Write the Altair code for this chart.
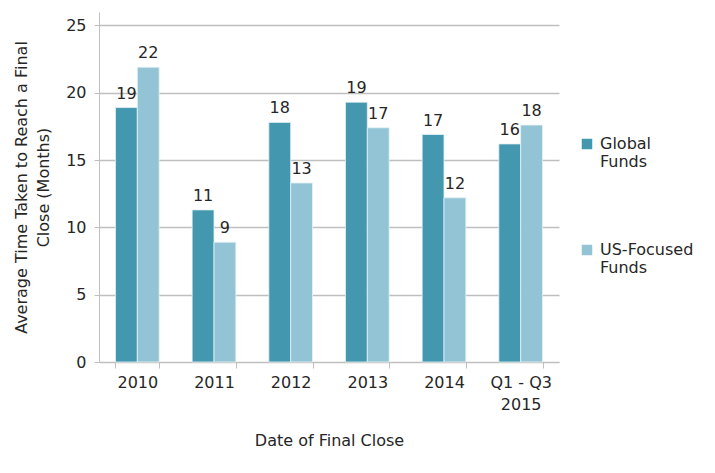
import altair as alt
import pandas as pd

categories = ["2010", "2011", "2012", "2013", "2014", "Q1 - Q3|2015"]
global_funds = [18.9, 11.3, 17.8, 19.3, 16.9, 16.2]
us_funds = [21.9, 8.9, 13.3, 17.4, 12.2, 17.6]
series_names = ["Global|Funds", "US-Focused|Funds"]
colors = ["#4398B0", "#93C4D5"]

rows = []
for c, g, u in zip(categories, global_funds, us_funds):
    rows.append({"cat": c, "series": series_names[0], "v": g})
    rows.append({"cat": c, "series": series_names[1], "v": u})
df = pd.DataFrame(rows)

FONT = "DejaVu Sans"
TXT = "#262626"

x = alt.X("cat:N", sort=categories, title="Date of Final Close",
          scale=alt.Scale(paddingInner=0.43, paddingOuter=0.215),
          axis=alt.Axis(labelAngle=0, labelExpr="split(datum.label, '|')",
                        tickBand="extent", tickSize=6, labelPadding=6,
                        titlePadding=20, domainColor="#BFBFBF", tickColor="#BFBFBF",
                        labelLineHeight=22))
xo = alt.XOffset("series:N", sort=series_names)
y = alt.Y("v:Q", title=["Average Time Taken to Reach a Final", "Close (Months)"],
          scale=alt.Scale(domain=[0, 25]),
          axis=alt.Axis(values=[0, 5, 10, 15, 20, 25], tickSize=5, labelPadding=8,
                        titlePadding=14, domainColor="#BFBFBF", tickColor="#BFBFBF",
                        gridColor="#BFBFBF", gridWidth=1.5, titleLineHeight=22))

base = alt.Chart(df)
bars = base.mark_bar(stroke="#E6F2F5", strokeWidth=0.8).encode(
    x=x, xOffset=xo, y=y,
    color=alt.Color("series:N", sort=series_names,
                    scale=alt.Scale(domain=series_names, range=colors),
                    legend=alt.Legend(title=None, orient="none", legendX=480, legendY=124,
                                      labelExpr="split(datum.label, '|')",
                                      symbolType="square", symbolSize=110,
                                      symbolStrokeWidth=0, rowPadding=72,
                                      labelBaseline="middle",
                                      labelOffset=5))
)
labels = base.mark_text(dy=-14, fontSize=16, font=FONT, color=TXT).encode(
    x=alt.X("cat:N", sort=categories), xOffset=xo, y="v:Q",
    text=alt.Text("v:Q", format=".0f")
)

chart = (bars + labels).properties(
    width=460, height=350,
    padding={"left": 5, "top": 4, "right": 5, "bottom": 0}
).configure_axis(
    labelFont=FONT, titleFont=FONT, labelFontSize=16, titleFontSize=16,
    labelColor=TXT, titleColor=TXT, titleFontWeight="normal"
).configure_axisX(grid=False).configure_legend(
    labelFont=FONT, labelFontSize=16, labelColor=TXT
).configure_view(stroke=None)

chart.save("out.html", embed_options={"renderer": "svg", "actions": False})
